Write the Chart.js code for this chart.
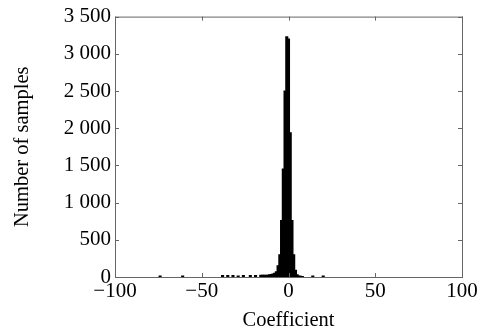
<!DOCTYPE html>
<html>
<head>
<meta charset="utf-8">
<script src="https://cdn.jsdelivr.net/npm/chart.js@4"></script>
<style>
  html, body { margin: 0; padding: 0; background: #fff; }
  #wrap { width: 492px; height: 333px; }
</style>
</head>
<body>
<div id="wrap"><canvas id="histChart" width="492" height="333"></canvas></div>
<script>
// Histogram bins (bin centre -> number of samples)
const binCenters = [-74, -61, -38, -35, -32, -29, -26, -22, -19, -16, -15, -14, -13, -12, -11, -10, -9, -8, -7, -6,
                    -5, -4, -3, -2, -1, 0, 1, 2, 3, 4, 5, 6, 7, 8, 14, 20];
const binCounts  = [15, 15, 20, 20, 20, 15, 20, 20, 20, 25, 25, 25, 25, 25, 30, 35, 40, 50, 70, 150,
                    300, 760, 1450, 2500, 3230, 3200, 1940, 760, 300, 90, 30, 15, 10, 8, 15, 15];
const xTicks = [-100, -50, 0, 50, 100];
const yTicks = [0, 500, 1000, 1500, 2000, 2500, 3000, 3500];

const serif = "'Liberation Serif', 'Times New Roman', serif";

function fmtThousands(v) {
    const s = String(Math.abs(v)).replace(/\B(?=(\d{3})+$)/g, ' ');
    return (v < 0 ? '\u2212' : '') + s;
}

// box around plot + inward tick marks (MATLAB look)
const boxTicks = {
    id: 'boxTicks',
    afterDraw(chart) {
        const { ctx, chartArea: a, scales } = chart;
        const len = 4;
        ctx.save();
        ctx.strokeStyle = '#666';
        ctx.lineWidth = 1;
        ctx.strokeRect(a.left + 0.5, a.top + 0.5, a.right - a.left, a.bottom - a.top);
        ctx.beginPath();
        xTicks.forEach(v => {
            const px = Math.round(scales.x.getPixelForValue(v)) + 0.5;
            ctx.moveTo(px, a.bottom); ctx.lineTo(px, a.bottom - len);
            ctx.moveTo(px, a.top); ctx.lineTo(px, a.top + len);
        });
        yTicks.forEach(v => {
            const py = Math.round(scales.y.getPixelForValue(v)) + 0.5;
            ctx.moveTo(a.left, py); ctx.lineTo(a.left + len, py);
            ctx.moveTo(a.right, py); ctx.lineTo(a.right - len, py);
        });
        ctx.stroke();
        ctx.restore();
    }
};

new Chart(document.getElementById('histChart'), {
    type: 'bar',
    data: {
        datasets: [{
            data: binCenters.map((c, i) => ({ x: c, y: binCounts[i] })),
            backgroundColor: '#000',
            borderColor: '#000',
            borderWidth: 0,
            inflateAmount: 0.5,
            barPercentage: 1.2,
            categoryPercentage: 1.0
        }]
    },
    options: {
        responsive: false,
        animation: false,
        layout: { padding: { left: 0, right: 30, top: 14, bottom: 0 } },
        plugins: { legend: { display: false }, tooltip: { enabled: false } },
        scales: {
            x: {
                type: 'linear',
                min: -100, max: 100,
                offset: false,
                afterBuildTicks: s => { s.ticks = xTicks.map(v => ({ value: v })); },
                afterFit: s => { s.height = 56; },
                grid: { display: false, drawTicks: false, offset: false },
                border: { display: false },
                ticks: {
                    color: '#000', padding: 2,
                    font: { family: serif, size: 21 },
                    maxRotation: 0,
                    callback: v => fmtThousands(v)
                },
                title: {
                    display: true, text: 'Coefficient', color: '#000',
                    font: { family: serif, size: 20.5 },
                    padding: { top: 0, bottom: 0 }
                }
            },
            y: {
                min: 0, max: 3500,
                afterBuildTicks: s => { s.ticks = yTicks.map(v => ({ value: v })); },
                afterFit: s => { s.width = 115; },
                grid: { display: false, drawTicks: false },
                border: { display: false },
                ticks: {
                    color: '#000', padding: 4,
                    font: { family: serif, size: 21 },
                    callback: v => fmtThousands(v)
                },
                title: {
                    display: true, text: 'Number of samples', color: '#000',
                    font: { family: serif, size: 20.5 },
                    padding: { top: 10, bottom: 0 }
                }
            }
        }
    },
    plugins: [boxTicks]
});
</script>
</body>
</html>
